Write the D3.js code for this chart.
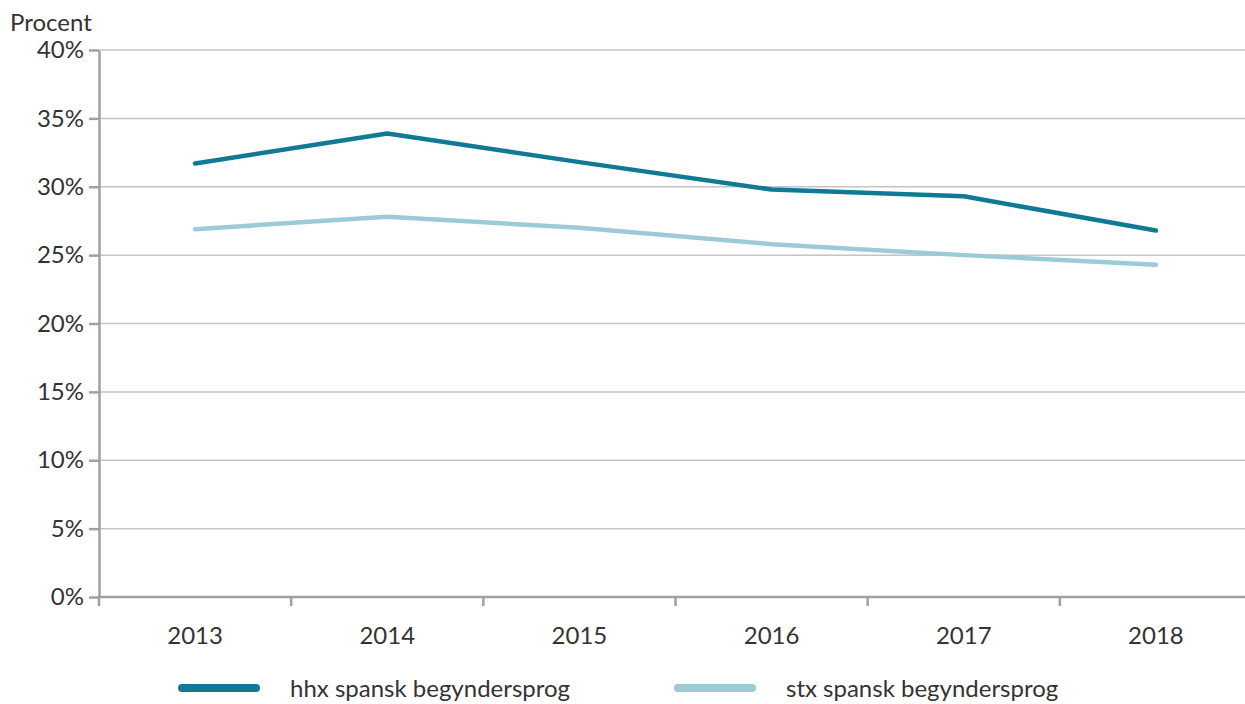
<!DOCTYPE html>
<html>
<head>
<meta charset="utf-8">
<script src="https://cdn.jsdelivr.net/npm/d3@7"></script>
<style>
  body { margin: 0; background: #fff; }
  text { font-family: Lato, "Open Sans", sans-serif; fill: #333; }
  .grid line { stroke: #c4c4c4; stroke-width: 1.5; }
  .axis path, .axis line { stroke: #a0a0a0; stroke-width: 2.5; }
</style>
</head>
<body>
<svg id="chart" width="1245" height="704"></svg>
<script>
var width = 1245;
var height = 704;

var years = ["2013", "2014", "2015", "2016", "2017", "2018"];
var hhx = [31.7, 33.9, 31.8, 29.8, 29.3, 26.8];
var stx = [26.9, 27.8, 27.0, 25.8, 25.0, 24.3];
var yTicks = [0, 5, 10, 15, 20, 25, 30, 35, 40];
var seriesNames = ["hhx spansk begyndersprog", "stx spansk begyndersprog"];
var colors = ["#107a96", "#9ccbd7"];

var svg = d3.select("#chart");

var xScale = d3.scaleBand()
  .domain(years)
  .range([99, 1252]);

var yScale = d3.scaleLinear()
  .domain([0, 40])
  .range([597, 50]);

// gridlines
svg.append("g")
  .attr("class", "grid")
  .selectAll("line")
  .data(yTicks.slice(1))
  .enter().append("line")
  .attr("x1", 99)
  .attr("x2", width)
  .attr("y1", function(d) { return yScale(d); })
  .attr("y2", function(d) { return yScale(d); });

// y axis
var yAxis = svg.append("g")
  .attr("class", "axis")
  .attr("transform", "translate(99,0)")
  .call(d3.axisLeft(yScale).tickValues(yTicks).tickSize(10).tickSizeOuter(0)
    .tickFormat(function(d) { return d + "%"; }));
yAxis.selectAll("text")
  .attr("x", -15)
  .style("font-size", "24px");

// x axis
var xAxis = svg.append("g")
  .attr("class", "axis")
  .attr("transform", "translate(0,597)")
  .call(d3.axisBottom(xScale).tickSize(0).tickSizeOuter(0));
xAxis.select(".domain").attr("d", "M99,0H" + width);
xAxis.selectAll("text")
  .attr("y", 30)
  .attr("dy", "0.71em")
  .style("font-size", "24px");

// tick marks between categories
xAxis.selectAll(".sep")
  .data(years)
  .enter().append("line")
  .attr("class", "sep")
  .attr("x1", function(d) { return xScale(d); })
  .attr("x2", function(d) { return xScale(d); })
  .attr("y1", 0)
  .attr("y2", 9);

svg.selectAll(".axis text").style("fill", "#333");

svg.append("text")
  .attr("x", 10)
  .attr("y", 31)
  .style("font-size", "24px")
  .text("Procent");

var line = d3.line()
  .x(function(d, i) { return xScale(years[i]) + xScale.bandwidth() / 2; })
  .y(function(d) { return yScale(d); });

[hhx, stx].forEach(function(s, i) {
  svg.append("path")
    .datum(s)
    .attr("fill", "none")
    .attr("stroke", colors[i])
    .attr("stroke-width", 4.5)
    .attr("stroke-linecap", "round")
    .attr("stroke-linejoin", "round")
    .attr("d", line);
});

// legend
var legendX = [180, 676];
var legend = svg.selectAll(".legend")
  .data(seriesNames)
  .enter().append("g")
  .attr("class", "legend")
  .attr("transform", function(d, i) { return "translate(" + legendX[i] + ",688)"; });

legend.append("line")
  .attr("x1", 2)
  .attr("x2", 76)
  .attr("stroke", function(d, i) { return colors[i]; })
  .attr("stroke-width", 8)
  .attr("stroke-linecap", "round");

legend.append("text")
  .attr("x", 110)
  .attr("y", 9)
  .style("font-size", "24px")
  .text(function(d) { return d; });
</script>
</body>
</html>
